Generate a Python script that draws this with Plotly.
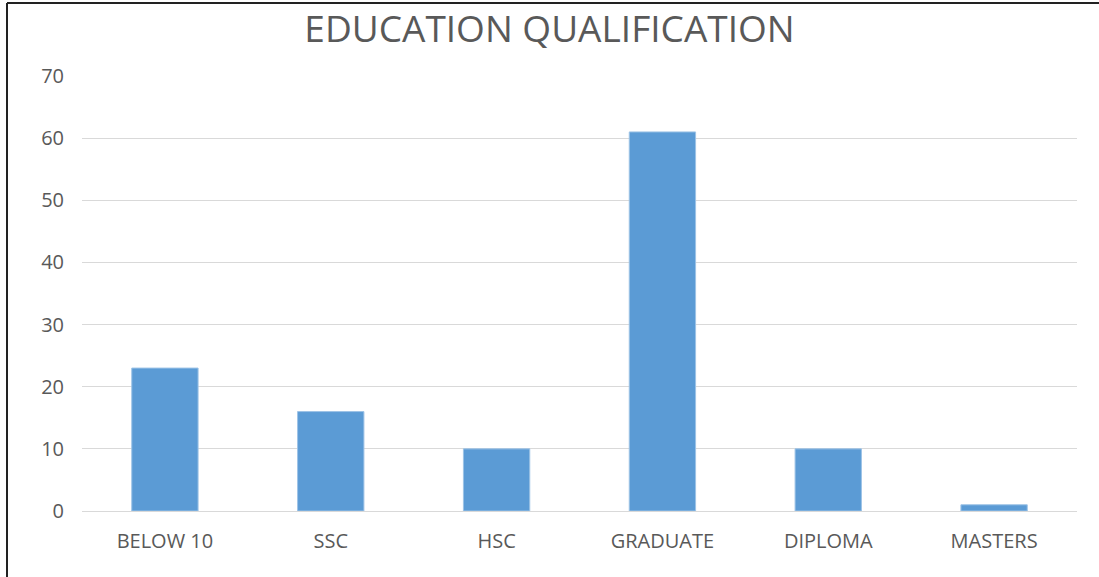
import plotly.graph_objects as go

categories = ["BELOW 10", "SSC", "HSC", "GRADUATE", "DIPLOMA", "MASTERS"]
values = [23, 16, 10, 61, 10, 1]
y_ticks = [0, 10, 20, 30, 40, 50, 60, 70]

W, H = 1099, 577
L, R, T, B = 82, 22, 76, 66
pw, ph = W - L - R, H - T - B

def px(x):
    return (x - L) / pw

def py(y):
    return (H - B - y) / ph

fig = go.Figure(go.Bar(
    x=categories, y=values,
    marker=dict(color="#5b9bd5", line=dict(color="#9dc3e6", width=1)),
))

fig.update_layout(
    width=W, height=H,
    margin=dict(l=L, r=R, t=T, b=B),
    paper_bgcolor="white", plot_bgcolor="white",
    bargap=0.6,
    showlegend=False,
    font=dict(family="Open Sans", color="#595959"),
    title=dict(text="EDUCATION QUALIFICATION", x=0.5, xanchor="center", xref="container",
               y=1 - 29 / H, yanchor="middle",
               font=dict(size=37, color="#595959", family="Open Sans")),
    xaxis=dict(tickfont=dict(size=20, color="#595959"), showgrid=False,
               showline=True, linecolor="#d9d9d9", linewidth=1, ticks="",
               ticklabelstandoff=12),
    yaxis=dict(range=[0, 70], tickvals=y_ticks, tickfont=dict(size=20, color="#595959"),
               showgrid=True, gridcolor="#d9d9d9", gridwidth=1, zeroline=False,
               showline=False, ticks="", ticklabelstandoff=17),
    shapes=[
        dict(type="line", xref="paper", yref="paper", x0=px(7), x1=px(W), y0=py(3), y1=py(3),
             line=dict(color="#222222", width=2)),
        dict(type="line", xref="paper", yref="paper", x0=px(7), x1=px(7), y0=py(3), y1=py(H),
             line=dict(color="#222222", width=2)),
    ],
)

fig.write_html("out.html", config={"displayModeBar": False},
               post_script="document.body.style.margin='0';")
